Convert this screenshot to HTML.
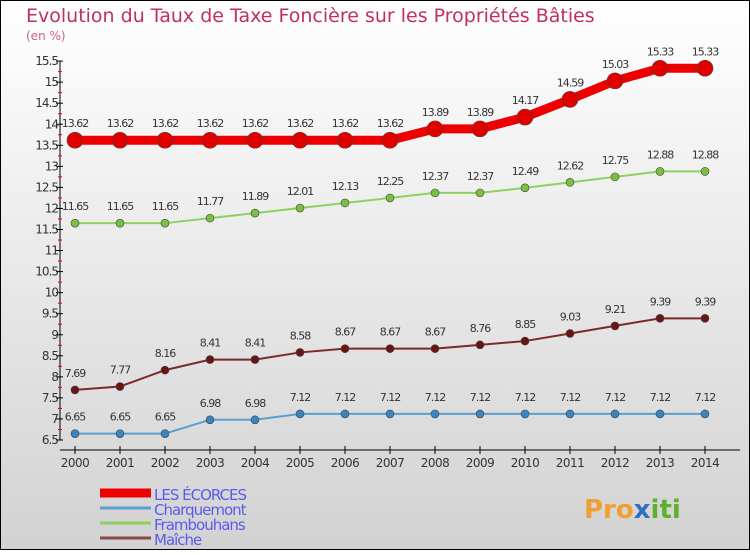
<!DOCTYPE html>
<html><head><meta charset="utf-8"><style>
body{margin:0}
svg text{font-family:"DejaVu Sans","Liberation Sans",sans-serif}
</style></head><body>
<svg width="750" height="550" xmlns="http://www.w3.org/2000/svg">
<defs><linearGradient id="bg" x1="0" y1="0" x2="0" y2="1"><stop offset="0" stop-color="#ffffff"/><stop offset="1" stop-color="#d2d2d2"/></linearGradient></defs>
<rect x="0.5" y="0.5" width="749" height="549" fill="url(#bg)" stroke="#000"/>
<text x="26" y="22" font-size="19" fill="#c0305a">Evolution du Taux de Taxe Foncière sur les Propriétés Bâties</text>
<text x="26" y="40" font-size="12" fill="#d06080">(en %)</text>
<g id="axes"></g>
<g id="series"></g>
<g id="legend"></g>
<text x="584" y="518" font-size="26" font-weight="bold" fill="#f0a030">Pro<tspan fill="#3070c0">x</tspan><tspan fill="#60b030">iti</tspan></text>
</svg>
<script>
const years=[2000,2001,2002,2003,2004,2005,2006,2007,2008,2009,2010,2011,2012,2013,2014];
const yTicks=[6.5,7,7.5,8,8.5,9,9.5,10,10.5,11,11.5,12,12.5,13,13.5,14,14.5,15,15.5];
const names=["LES ÉCORCES","Charquemont","Frambouhans","Maîche"];
const ecorces=[13.62,13.62,13.62,13.62,13.62,13.62,13.62,13.62,13.89,13.89,14.17,14.59,15.03,15.33,15.33];
const charquemont=[6.65,6.65,6.65,6.98,6.98,7.12,7.12,7.12,7.12,7.12,7.12,7.12,7.12,7.12,7.12];
const frambouhans=[11.65,11.65,11.65,11.77,11.89,12.01,12.13,12.25,12.37,12.37,12.49,12.62,12.75,12.88,12.88];
const maiche=[7.69,7.77,8.16,8.41,8.41,8.58,8.67,8.67,8.67,8.76,8.85,9.03,9.21,9.39,9.39];
const NS="http://www.w3.org/2000/svg";
const X=i=>75+i*45, Y=v=>440-(v-6.5)*42.1;
function mk(t,a,p){const e=document.createElementNS(NS,t);for(const k in a)e.setAttribute(k,a[k]);p.appendChild(e);return e;}
const ax=document.getElementById('axes');
const yl=mk('line',{x1:60,y1:Y(15.5),x2:60,y2:Y(6.5),stroke:'#000'},ax);


yTicks.forEach((v,k)=>{
 const tk=mk('line',{x1:56,x2:63,y1:Y(v),y2:Y(v),stroke:'#000'},ax);
 
 
 if(k<yTicks.length-1){
 const m=mk('line',{x1:58,x2:62,y1:Y(v+0.25),y2:Y(v+0.25),stroke:'#e00'},ax);
 
 
 }
 const t=mk('text',{x:58,y:Y(v)+4,'font-size':12,'text-anchor':'end',fill:'#333','letter-spacing':'-1'},ax);t.textContent=String(v);
 
 
});
const xl=mk('line',{x1:60,y1:450,x2:740,y2:450,stroke:'#000'},ax);


years.forEach((y,i)=>{
 const tk=mk('line',{x1:X(i),x2:X(i),y1:446,y2:454,stroke:'#000'},ax);
 
 
 const t=mk('text',{x:X(i),y:467,'font-size':12,'text-anchor':'middle',fill:'#333','letter-spacing':'-0.5'},ax);t.textContent=y;
 
 
});
const sg=document.getElementById('series');
const defs=[[charquemont,'#5a9fd0','#3a85c0',2,4,'charquemont'],[maiche,'#7a2a2a','#6a1515',2,4,'maiche'],[frambouhans,'#90d060','#7ac040',2,4,'frambouhans'],[ecorces,'#ee0000','#e00000',9,8,'ecorces']];
defs.forEach(([d,c,fc,w,r,n])=>{
 const pl=mk('polyline',{points:d.map((v,i)=>X(i)+','+Y(v)).join(' '),fill:'none',stroke:c,'stroke-width':w},sg);
 
 
 d.forEach((v,i)=>{
  const p=mk('circle',{cx:X(i),cy:Y(v),r:r,fill:fc,stroke:'#444','stroke-width':0.6},sg);
  
  
  const t=mk('text',{x:X(i),y:Y(v)-13,'font-size':11,'text-anchor':'middle',fill:'#333','letter-spacing':'-1'},sg);t.textContent=String(v);
  
  
 });
});
const lg=document.getElementById('legend');
const lc=['#ee0000','#5a9fd0','#90d060','#8a4a4a'],lw=[9,3,3,3],ly=[493,508,523,538];
names.forEach((n,i)=>{
 const l=mk('line',{x1:100,x2:151,y1:ly[i],y2:ly[i],stroke:lc[i],'stroke-width':lw[i]},lg);
 
 
 const t=mk('text',{x:154,y:ly[i]+7,'font-size':15,fill:'#5a5aee','letter-spacing':'-1'},lg);t.textContent=n;
 
 
});
</script>
</body></html>
